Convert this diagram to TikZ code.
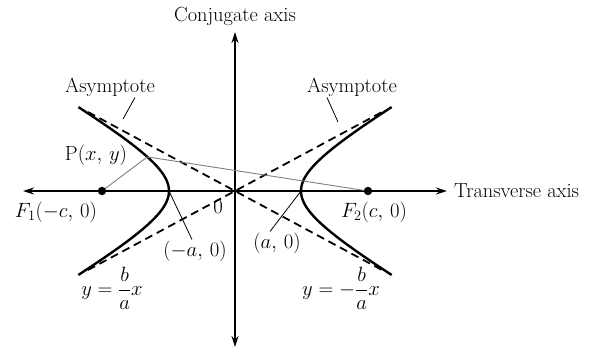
\documentclass[tikz,border=0pt]{standalone}
\usepackage{amsmath}
\usetikzlibrary{arrows.meta,positioning}

\begin{document}
\begin{tikzpicture}[x=1bp, y=1bp, font=\fontsize{20.5}{24}\selectfont,
  axis/.style={line width=1.6bp, {Stealth[length=11bp,width=7bp]}-{Stealth[length=11bp,width=7bp]}},
  branch/.style={line width=2.4bp},
  asym/.style={line width=1.8bp, dash pattern=on 8bp off 5bp},
  focal/.style={gray, line width=0.9bp},
  leader/.style={line width=0.8bp},
  lbl/.style={inner sep=1bp}]
\useasboundingbox (-235,-158) rectangle (364,191);
% axes
\coordinate (O) at (0,0);
\coordinate (xl) at (-212,0);
\coordinate (xr) at (212,0);
\coordinate (yb) at (0,-156);
\coordinate (yt) at (0,159);
\draw[axis] (xl) -- (xr);
\draw[axis] (yb) -- (yt);
\node[lbl, anchor=west, right=6bp of xr] (tax) {Transverse axis};
\node[lbl] (cax) at (0,175) {Conjugate axis};
% asymptotes y = +-(b/a)x
\coordinate (a1) at (-147,-79);
\coordinate (a2) at (147,79);
\coordinate (a3) at (-147,79);
\coordinate (a4) at (147,-79);
\draw[asym] (a1) -- (a2);
\draw[asym] (a3) -- (a4);
% the two branches, x = a cosh t, y = b sinh t
\draw[branch] plot[domain=-1.51:1.51, samples=60, smooth] ({-66*cosh(\x)}, {39*sinh(\x)});
\draw[branch] plot[domain=-1.51:1.51, samples=60, smooth] ({66*cosh(\x)}, {39*sinh(\x)});
% foci, vertices and a point on the curve
\coordinate (F1) at (-133,0);
\coordinate (F2) at (133,0);
\coordinate (V1) at (-66,0);
\coordinate (V2) at (66,0);
\coordinate (P) at ({-66*cosh(0.79)}, {39*sinh(0.79)});
\draw[focal] (F1) -- (P) -- (F2);
\fill (F1) circle (4.2bp);
\fill (F2) circle (4.2bp);
% labels
\node[lbl] (Pl) at (-139,36) {P$(x,\,y)$};
\node[lbl] (F1l) at (-179,-21) {$F_1(-c,\,0)$};
\node[lbl] (F2l) at (139,-21) {$F_2(c,\,0)$};
\node[lbl] (Ol) at (-17,-16) {$0$};
\node[lbl] (V1l) at (-40,-60) {$(-a,\,0)$};
\node[lbl] (V2l) at (42,-52) {$(a,\,0)$};
\node[lbl] (AsL) at (-125,104) {Asymptote};
\node[lbl] (AsR) at (117,104) {Asymptote};
\node[lbl] (eqL) at (-123,-97) {$y=\dfrac{b}{a}x$};
\node[lbl] (eqR) at (106,-97) {$y=-\dfrac{b}{a}x$};
% leader lines
\coordinate (tL) at (-112,72);
\coordinate (tR) at (103,69);
\draw[leader] ([xshift=25bp]AsL.south) -- (tL);
\draw[leader] ([xshift=-25bp]AsR.south) -- (tR);
\draw[leader] (V1) -- ([xshift=-3bp]V1l.north);
\draw[leader] (V2) -- ([xshift=-7bp]V2l.north);
\end{tikzpicture}
\end{document}
